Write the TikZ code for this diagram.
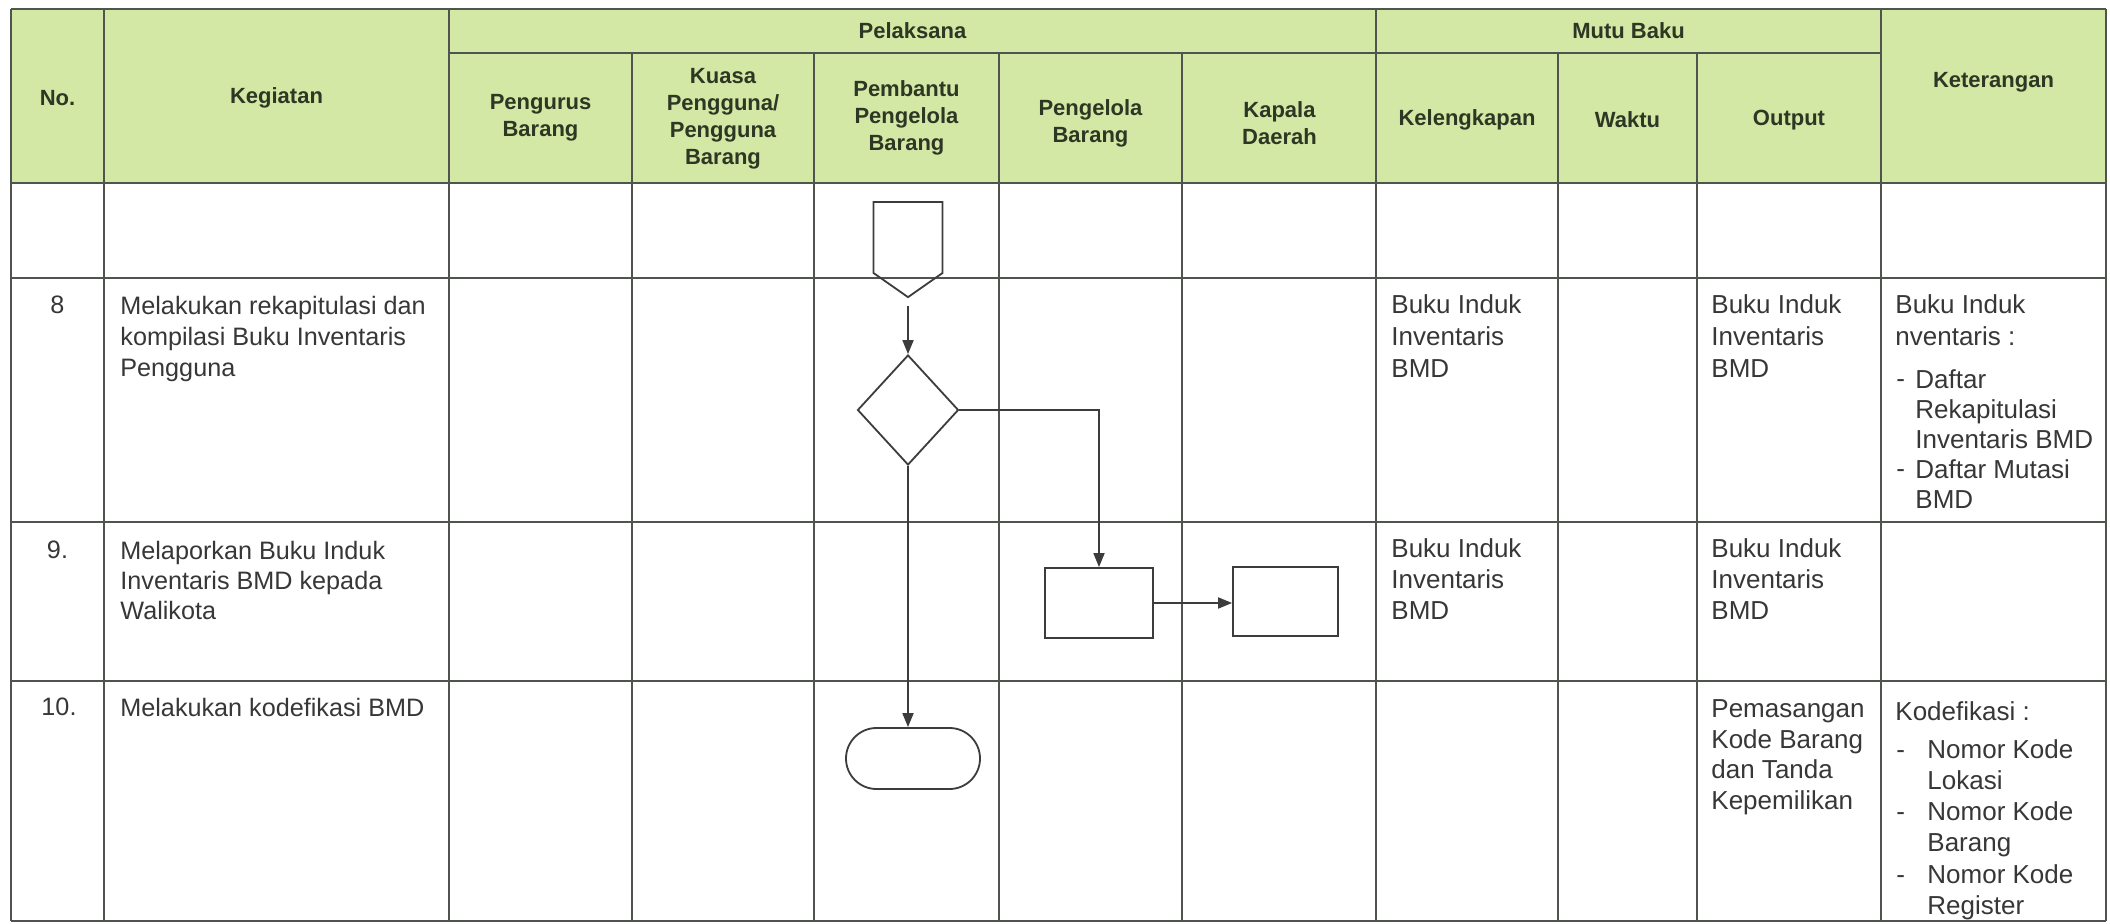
\documentclass[tikz,border=0pt]{standalone}
\usepackage{fontspec}
\setmainfont{Liberation Sans}
\usetikzlibrary{shapes.geometric,shapes.symbols,arrows.meta}
\definecolor{hdrfill}{RGB}{212,232,166}
\definecolor{gridc}{RGB}{80,84,78}
\definecolor{hdrtxt}{RGB}{45,55,35}
\definecolor{bodytxt}{RGB}{55,55,55}
\definecolor{flowc}{RGB}{60,60,60}
\begin{document}
\begin{tikzpicture}[x=0.5pt,y=-0.5pt,
  grid/.style={draw=gridc, line width=0.8pt},
  hdr/.style={font=\bfseries\fontsize{11}{13.5}\selectfont, text=hdrtxt, align=center, inner sep=0},
  txt/.style={font=\fontsize{13}{15.5}\selectfont, text=bodytxt, align=left, anchor=north west, inner sep=0},
  kegtxt/.style={txt, font=\fontsize{12.6}{15.5}\selectfont},
  num/.style={font=\fontsize{12.6}{15.5}\selectfont, text=bodytxt, anchor=north, inner sep=0},
  dashmark/.style={font=\fontsize{13}{15.5}\selectfont, text=bodytxt, anchor=north west, inner sep=0, text height=9.3pt},
  flow/.style={draw=flowc, line width=0.9pt, inner sep=0},
  arr/.style={draw=flowc, line width=0.9pt, -{Triangle[length=7pt,width=5.5pt]}},
]
\useasboundingbox (0,0) rectangle (2110,924);
\fill[white] (0,0) rectangle (2110,924);
\fill[hdrfill] (11,9) rectangle (2106,183);
% grid
\draw[grid] (11,9) -- (2106,9);
\draw[grid] (449,53) -- (1881,53);
\foreach \y in {183,278,522,681,921} \draw[grid] (11,\y) -- (2106,\y);
\foreach \x in {11,104,449,1376,1881,2106} \draw[grid] (\x,9) -- (\x,921);
\foreach \x in {632,814,999,1182,1558,1697} \draw[grid] (\x,53) -- (\x,921);
% header
\node[hdr] (hno) at (57.5,98) {No.};
\node[hdr] (hkeg) at (276.5,98) {Kegiatan};
\node[hdr] (hpel) at (912.5,31) {Pelaksana};
\node[hdr] (hmutu) at (1628.5,31) {Mutu Baku};
\node[hdr] (hket) at (1993.5,82) {Keterangan};
\node[hdr] (h1) at (540.5,118) {Pengurus\\Barang};
\node[hdr] (h2) at (723,119) {Kuasa\\Pengguna/\\Pengguna\\Barang};
\node[hdr] (h3) at (906.5,118) {Pembantu\\Pengelola\\Barang};
\node[hdr] (h4) at (1090.5,123) {Pengelola\\Barang};
\node[hdr] (h5) at (1279.5,123) {Kapala\\Daerah};
\node[hdr] (h6) at (1467,120) {Kelengkapan};
\node[hdr] (h7) at (1627.5,120) {Waktu};
\node[hdr] (h8) at (1789,120) {Output};
% row 8
\node[num] (n8) at (57.5,296) {8};
\node[kegtxt] (k8) at (120,296) {Melakukan rekapitulasi dan\\kompilasi Buku Inventaris\\Pengguna};
\node[txt, font=\fontsize{13}{16}\selectfont] (kl8) at (1391,294) {Buku Induk\\Inventaris\\BMD};
\node[txt, font=\fontsize{13}{16}\selectfont] (o8) at (1711,294) {Buku Induk\\Inventaris\\BMD};
\node[txt, font=\fontsize{13}{16}\selectfont] (ke8) at (1895,294) {Buku Induk\\nventaris :};
\node[dashmark] (d81) at (1896,369) {-};
\node[txt, font=\fontsize{13}{15}\selectfont] (ke81) at (1915,369) {Daftar\\Rekapitulasi\\Inventaris BMD};
\node[dashmark] (d82) at (1896,459) {-};
\node[txt, font=\fontsize{13}{15}\selectfont] (ke82) at (1915,459) {Daftar Mutasi\\BMD};
% row 9
\node[num] (n9) at (57.5,541) {9.};
\node[kegtxt, font=\fontsize{12.6}{15}\selectfont] (k9) at (120,541) {Melaporkan Buku Induk\\Inventaris BMD kepada\\Walikota};
\node[txt] (kl9) at (1391,538) {Buku Induk\\Inventaris\\BMD};
\node[txt] (o9) at (1711,538) {Buku Induk\\Inventaris\\BMD};
% row 10
\node[num] (n10) at (59,698) {10.};
\node[kegtxt] (k10) at (120,698) {Melakukan kodefikasi BMD};
\node[txt, font=\fontsize{13}{15.4}\selectfont] (o10) at (1711,699) {Pemasangan\\Kode Barang\\dan Tanda\\Kepemilikan};
\node[txt] (ke10) at (1895,701) {Kodefikasi :};
\node[dashmark] (d101) at (1896,739) {-};
\node[txt] (ke101) at (1927,739) {Nomor Kode\\Lokasi};
\node[dashmark] (d102) at (1896,801) {-};
\node[txt] (ke102) at (1927,801) {Nomor Kode\\Barang};
\node[dashmark] (d103) at (1896,864) {-};
\node[txt] (ke103) at (1927,864) {Nomor Kode\\Register};
% flow
\node[flow, shape=signal, signal to=south, signal from=nowhere, signal pointer angle=110, minimum width=34.5pt, minimum height=35.5pt] (opc) at (908,237.5) {};
\node[flow, diamond, minimum width=50.5pt, minimum height=55pt] (dia) at (908,410) {};
\node[flow, rectangle, minimum width=54pt, minimum height=35pt] (box1) at (1099,603) {};
\node[flow, rectangle, minimum width=52.5pt, minimum height=34.5pt] (box2) at (1285.5,601.5) {};
\node[flow, rectangle, rounded corners=15.25pt, minimum width=67pt, minimum height=30.5pt] (term) at (913,758.5) {};
\draw[arr, shorten <=4pt] (opc.south) -- (dia.north);
\draw[arr] (dia.east) -| (box1.north);
\draw[arr] (box1.east) -- (box1.east -| box2.west);
\draw[arr] (dia.south) -- (dia.south |- term.north);
\end{tikzpicture}
\end{document}
